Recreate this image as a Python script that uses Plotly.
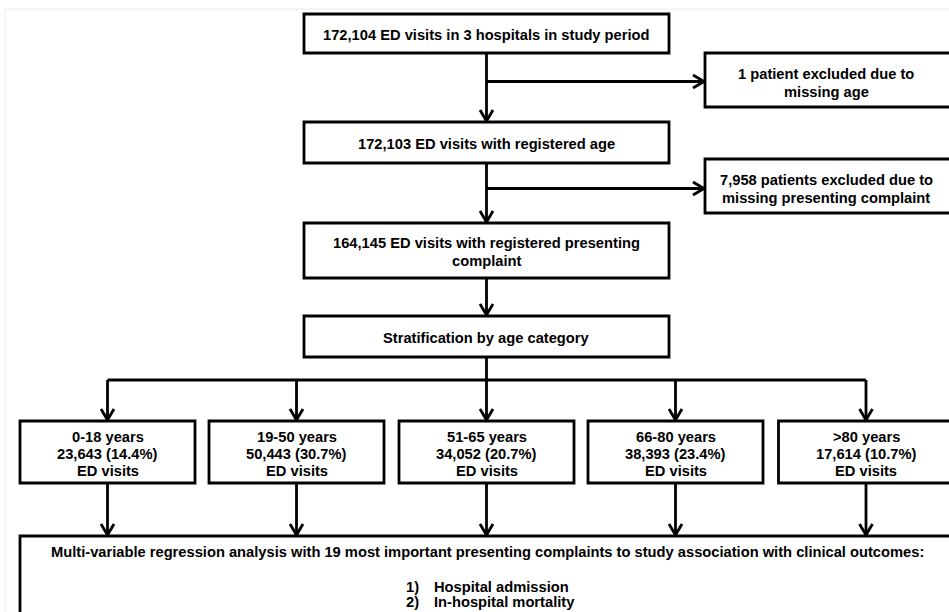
import plotly.graph_objects as go

# ---------------- data (text content) ----------------
main_labels = [
    ["172,104 ED visits in 3 hospitals in study period"],
    ["172,103 ED visits with registered age"],
    ["164,145 ED visits with registered presenting", "complaint"],
    ["Stratification by age category"],
]
excl_labels = [
    ["1 patient excluded due to", "missing age"],
    ["7,958 patients excluded due to", "missing presenting complaint"],
]
age_groups = ["0-18 years", "19-50 years", "51-65 years", "66-80 years", ">80 years"]
age_visits = [23643, 50443, 34052, 38393, 17614]
age_pct = [14.4, 30.7, 20.7, 23.4, 10.7]
analysis_title = ("Multi-variable regression analysis with 19 most important presenting "
                  "complaints to study association with clinical outcomes:")
outcomes = ["Hospital admission", "In-hospital mortality"]

# ---------------- layout (positions / styles) ----------------
W, H = 949, 612
main_x = (304, 669)
main_y = [(14, 53), (122, 163), (223, 278), (316, 357)]
excl_x = (705, 970)
excl_cx = 826
excl_y = [(53, 107), (159, 213)]
spine_x = 486.5
branch_y = [81.5, 188.5]
bus_y = 380
age_cx = [107.5, 296.5, 486.5, 675.5, 866]
age_w = 175
age_y = (421, 483)
big_x = (20, 970)
big_y = (536, 660)
title_y = 552
outcome_y = [586.5, 602]
num_right_x = 421
outcome_left_x = 432
LINE_GAP = 18
AGE_GAP = 17.3

LW = 2.8
FONT = dict(family="Liberation Sans, Arial, sans-serif", size=14.7, color="black", weight="bold")

fig = go.Figure()
shapes = []
annots = []


def rect(x0, x1, y0, y1):
    shapes.append(dict(type="rect", xref="x", yref="y", x0=x0, x1=x1, y0=y0, y1=y1,
                       line=dict(color="black", width=LW), fillcolor="white", layer="above"))


def line(x0, y0, x1, y1):
    shapes.append(dict(type="line", xref="x", yref="y", x0=x0, y0=y0, x1=x1, y1=y1,
                       line=dict(color="black", width=LW)))


def arrow(x0, y0, x1, y1):
    line(x0, y0, x1, y1)
    hw, d = 6.5, 12
    if x0 == x1:  # vertical, pointing down
        p = f"M {x1-hw},{y1-d} L {x1},{y1-1} L {x1+hw},{y1-d}"
    else:  # horizontal, pointing right
        p = f"M {x1-d},{y1-hw} L {x1-1},{y1} L {x1-d},{y1+hw}"
    shapes.append(dict(type="path", xref="x", yref="y", path=p,
                       line=dict(color="black", width=LW)))


def text(x, y, s, anchor="center"):
    annots.append(dict(x=x, y=y, xref="x", yref="y", text=s, showarrow=False,
                       xanchor=anchor, yanchor="middle", align="center", font=FONT))


def text_lines(x, yc, lines, gap):
    n = len(lines)
    for i, s in enumerate(lines):
        text(x, yc + (i - (n - 1) / 2) * gap, s)


# faint frame
shapes.append(dict(type="line", xref="x", yref="y", x0=5, y0=9, x1=W + 5, y1=9,
                   line=dict(color="#ececec", width=1)))
shapes.append(dict(type="line", xref="x", yref="y", x0=5, y0=9, x1=5, y1=H + 5,
                   line=dict(color="#ececec", width=1)))

# connectors
arrow(spine_x, main_y[0][1], spine_x, main_y[1][0])
arrow(spine_x, branch_y[0], excl_x[0], branch_y[0])
arrow(spine_x, main_y[1][1], spine_x, main_y[2][0])
arrow(spine_x, branch_y[1], excl_x[0], branch_y[1])
arrow(spine_x, main_y[2][1], spine_x, main_y[3][0])
line(spine_x, main_y[3][1], spine_x, bus_y)
line(age_cx[0], bus_y, age_cx[-1], bus_y)
for cx in age_cx:
    arrow(cx, bus_y, cx, age_y[0])
    arrow(cx, age_y[1], cx, big_y[0])

# boxes + text
for (y0, y1), lab in zip(main_y, main_labels):
    rect(main_x[0], main_x[1], y0, y1)
    text_lines((main_x[0] + main_x[1]) / 2, (y0 + y1) / 2 + 1.5, lab, LINE_GAP)
for (y0, y1), lab in zip(excl_y, excl_labels):
    rect(excl_x[0], excl_x[1], y0, y1)
    text_lines(excl_cx, (y0 + y1) / 2 + 2.5, lab, LINE_GAP)
for cx, g, v, p in zip(age_cx, age_groups, age_visits, age_pct):
    rect(cx - age_w / 2, cx + age_w / 2, age_y[0], age_y[1])
    text_lines(cx, (age_y[0] + age_y[1]) / 2 + 2, [g, f"{v:,} ({p}%)", "ED visits"], AGE_GAP)

rect(big_x[0], big_x[1], big_y[0], big_y[1])
text(487, title_y, analysis_title)
for i, (oy, o) in enumerate(zip(outcome_y, outcomes), start=1):
    text(num_right_x, oy, f"{i})", anchor="right")
    text(outcome_left_x, oy, o, anchor="left")

fig.update_layout(
    width=W, height=H,
    margin=dict(l=0, r=0, t=0, b=0),
    paper_bgcolor="white", plot_bgcolor="white",
    xaxis=dict(range=[0, W], visible=False, fixedrange=True),
    yaxis=dict(range=[H, 0], visible=False, fixedrange=True),
    shapes=shapes, annotations=annots, showlegend=False,
)
fig.write_html(
    "out.html",
    config={"displayModeBar": False, "staticPlot": True},
    post_script="document.body.style.margin='0';document.body.style.padding='0';"
                "document.body.style.overflow='hidden';",
)
